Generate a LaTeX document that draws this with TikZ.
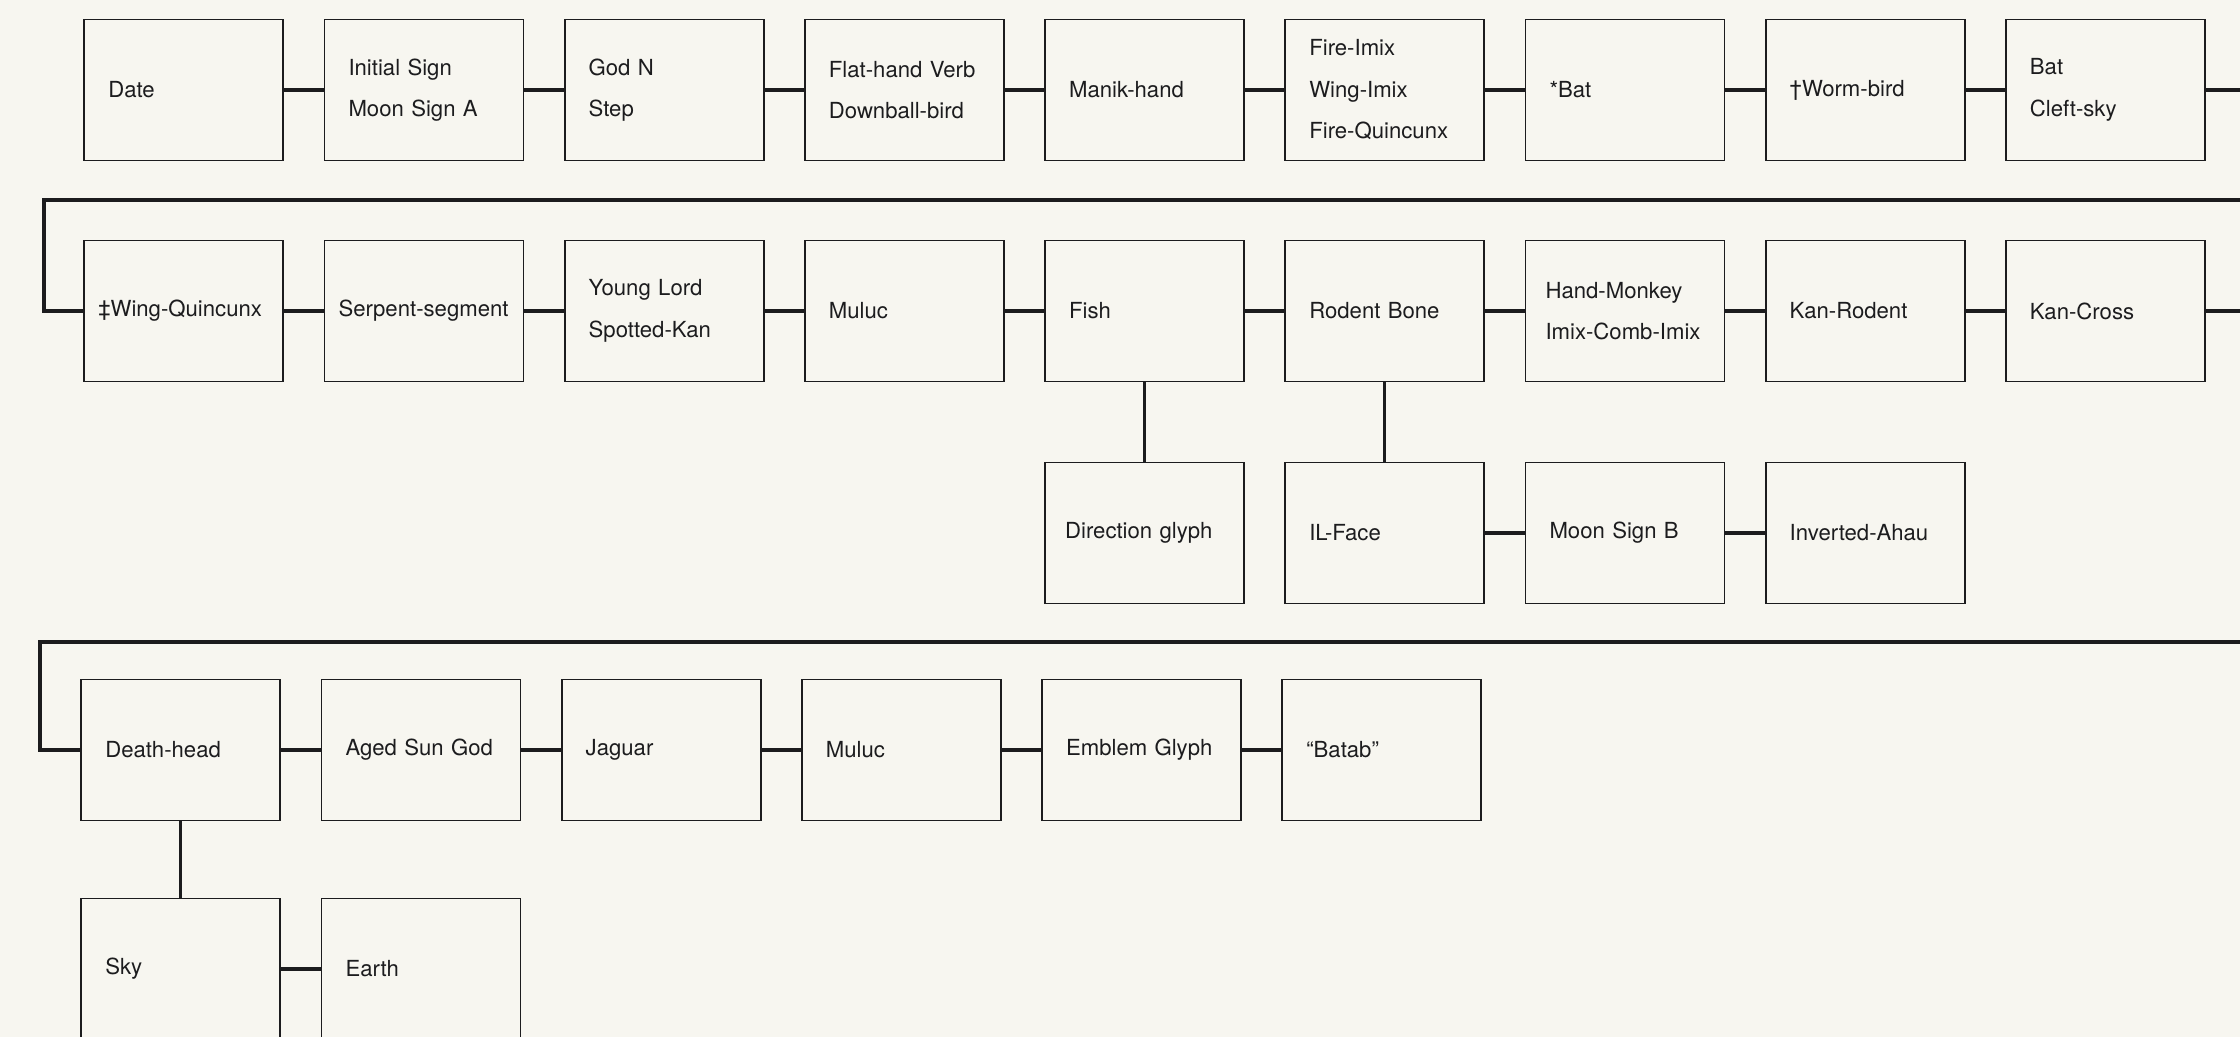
\documentclass[tikz,border=0pt]{standalone}
\usepackage{fontspec}
\setmainfont{TeX Gyre Heros}
\exhyphenpenalty=10000
\hyphenpenalty=10000
\definecolor{cPaper}{RGB}{247,246,240}
\definecolor{cInk}{RGB}{28,28,30}

\begin{document}
\begin{tikzpicture}[
  x=1cm,y=1cm, font=\fontsize{6.3}{11.8}\selectfont, color=cInk,
  glyph/.style ={draw=cInk, line width=0.55pt, text width=1.51cm, inner xsep=0.24cm,
                 inner ysep=0pt, minimum height=1.41cm, align=left},
  wide/.style  ={text width=1.59cm, inner xsep=0.20cm},
  wider/.style ={text width=1.71cm, inner xsep=0.14cm},
  link/.style  ={draw=cInk, line width=1.2pt},
  drop/.style  ={draw=cInk, line width=0.95pt},
]

% ----- geometry --------------------------------------------------------
\def\cA{1.838}\def\cB{4.240}\def\cC{6.642}\def\cD{9.044}\def\cE{11.446}
\def\cF{13.848}\def\cG{16.250}\def\cH{18.652}\def\cI{21.054}
\def\yA{-0.90}\def\yB{-3.11}\def\yC{-5.33}\def\yD{-7.50}\def\yE{-9.69}
\def\yRa{-2.00}\def\yRb{-6.42}
\def\xRa{0.44}\def\xRb{0.40}\def\xE{22.70}\def\dx{-0.03}

% ----- paper -----------------------------------------------------------
\fill[cPaper,use as bounding box] (0,0) rectangle (22.40,-10.37);
\clip (0,0) rectangle (22.40,-10.37);

% ----- first line ------------------------------------------------------
\node[glyph] (date)  at (\cA,\yA) {Date};
\node[glyph] (moon)  at (\cB,\yA) {Initial Sign\\Moon Sign A};
\node[glyph] (godn)  at (\cC,\yA) {God N\\Step};
\node[glyph] (flat)  at (\cD,\yA) {Flat-hand Verb\\Downball-bird};
\node[glyph] (manik) at (\cE,\yA) {Manik-hand};
\node[glyph] (fire)  at (\cF,\yA) {Fire-Imix\\Wing-Imix\\Fire-Quincunx};
\node[glyph] (sbat)  at (\cG,\yA) {*Bat};
\node[glyph] (worm)  at (\cH,\yA) {†Worm-bird};
\node[glyph] (bat)   at (\cI,\yA) {Bat\\Cleft-sky};

% ----- second line -----------------------------------------------------
\node[glyph,wider] (wing)     at (\cA,\yB) {‡Wing-Quincunx};
\node[glyph,wider] (serp)     at (\cB,\yB) {Serpent-segment};
\node[glyph]       (lord)     at (\cC,\yB) {Young Lord\\Spotted-Kan};
\node[glyph]       (muluc)    at (\cD,\yB) {Muluc};
\node[glyph]       (fish)     at (\cE,\yB) {Fish};
\node[glyph]       (rodent)   at (\cF,\yB) {Rodent Bone};
\node[glyph,wide]  (monkey)   at (\cG,\yB) {Hand-Monkey\\Imix-Comb-Imix};
\node[glyph]       (kanrod)   at (\cH,\yB) {Kan-Rodent};
\node[glyph]       (kancross) at (\cI,\yB) {Kan-Cross};

% ----- branch under Fish and Rodent Bone -------------------------------
\node[glyph,wide] (dir)    at (\cE,\yC) {Direction glyph};
\node[glyph]      (ilface) at (\cF,\yC) {IL-Face};
\node[glyph]      (moonb)  at (\cG,\yC) {Moon Sign B};
\node[glyph]      (ahau)   at (\cH,\yC) {Inverted-Ahau};

% ----- third line ------------------------------------------------------
\node[glyph] (death)  at (\cA+\dx,\yD) {Death-head};
\node[glyph] (sungod) at (\cB+\dx,\yD) {Aged Sun God};
\node[glyph] (jaguar) at (\cC+\dx,\yD) {Jaguar};
\node[glyph] (mulucb) at (\cD+\dx,\yD) {Muluc};
\node[glyph] (emblem) at (\cE+\dx,\yD) {Emblem Glyph};
\node[glyph] (batab)  at (\cF+\dx,\yD) {“Batab”};

\node[glyph] (sky)    at (\cA+\dx,\yE) {Sky};
\node[glyph] (earth)  at (\cB+\dx,\yE) {Earth};

% ----- connectors ------------------------------------------------------
\coordinate (eA) at (\xE,\yRa);  \coordinate (wA) at (\xRa,\yRa);
\coordinate (eB) at (\xE,\yRb);  \coordinate (wB) at (\xRb,\yRb);

\draw[link] (date) -- (moon);   \draw[link] (moon) -- (godn);
\draw[link] (godn) -- (flat);   \draw[link] (flat) -- (manik);
\draw[link] (manik) -- (fire);  \draw[link] (fire) -- (sbat);
\draw[link] (sbat) -- (worm);   \draw[link] (worm) -- (bat);
\draw[link] (bat.east) -| (eA) -- (wA) |- (wing.west);

\draw[link] (wing) -- (serp);     \draw[link] (serp) -- (lord);
\draw[link] (lord) -- (muluc);    \draw[link] (muluc) -- (fish);
\draw[link] (fish) -- (rodent);   \draw[link] (rodent) -- (monkey);
\draw[link] (monkey) -- (kanrod); \draw[link] (kanrod) -- (kancross);
\draw[link] (kancross.east) -| (eB) -- (wB) |- (death.west);

\draw[drop] (fish.south) -- (dir.north);
\draw[drop] (rodent.south) -- (ilface.north);
\draw[link] (ilface) -- (moonb);  \draw[link] (moonb) -- (ahau);

\draw[link] (death) -- (sungod);  \draw[link] (sungod) -- (jaguar);
\draw[link] (jaguar) -- (mulucb); \draw[link] (mulucb) -- (emblem);
\draw[link] (emblem) -- (batab);

\draw[drop] (death.south) -- (sky.north);
\draw[link] (sky) -- (earth);

\end{tikzpicture}
\end{document}
